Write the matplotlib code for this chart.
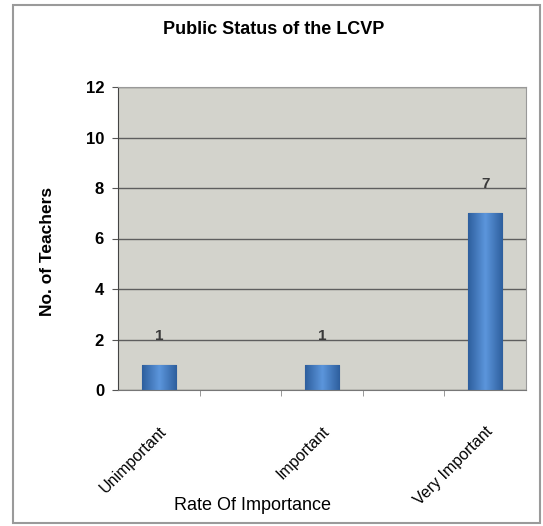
import numpy as np
import matplotlib.pyplot as plt
from matplotlib.patches import Rectangle
from matplotlib.colors import LinearSegmentedColormap

plt.rcParams['font.family'] = ['Liberation Sans', 'DejaVu Sans']

# data (5 slots, only 3 labelled/used)
categories = ["Unimportant", "", "Important", "", "Very Important"]
positions = [0, 2, 4]
bar_labels = ["Unimportant", "Important", "Very Important"]
teachers = [1, 1, 7]
yticks = [0, 2, 4, 6, 8, 10, 12]

fig = plt.figure(figsize=(5.43, 5.26), dpi=100)
ax = fig.add_axes([118/543, (526-390)/526, (526-118)/543, (390-87)/526])

# outer frame of the chart
fig.patches.append(Rectangle((13/543, 3/526), (540-13)/543, (521-3)/526,
                             transform=fig.transFigure, fill=False,
                             edgecolor='#9a9a9a', linewidth=1.5))

ax.set_facecolor('#d3d3cc')
ax.set_axisbelow(True)
ax.yaxis.grid(True, color='#5e5e5e', linewidth=1.0)

bars = ax.bar(positions, teachers, width=0.42, color='#4a80c4',
              edgecolor='#2c4f78', linewidth=0.8, zorder=2)

# horizontal gradient like the excel bars (dark edges, light middle)
cmap = LinearSegmentedColormap.from_list('barfill', ['#2e5f9e', '#5c96dc', '#2e5f9e'])
grad = np.linspace(0, 1, 64).reshape(1, -1)
for b in bars:
    x0, y0 = b.get_x(), b.get_y()
    im = ax.imshow(grad, cmap=cmap, aspect='auto', zorder=2.5,
                   extent=(x0, x0 + b.get_width(), y0, y0 + b.get_height()))
    im.set_clip_path(b)

for x, v in zip(positions, teachers):
    ax.annotate(str(v), (x, v), xytext=(0, 21), textcoords='offset points',
                ha='center', va='center', fontsize=11, fontweight='bold',
                color='#3a3a3a')

ax.set_xlim(-0.5, 4.5)
ax.set_ylim(0, 12)
ax.set_yticks(yticks)
ax.set_yticklabels([str(t) for t in yticks], fontsize=12, fontweight='bold')
ax.set_xticks(positions)
ax.set_xticklabels(bar_labels, rotation=45, ha='right', rotation_mode='anchor',
                   fontsize=11.5)
ax.set_xticks([0.5, 1.5, 2.5, 3.5], minor=True)
ax.tick_params(axis='x', which='major', length=0, pad=24)
ax.tick_params(axis='x', which='minor', length=4, color='#888888')
ax.tick_params(axis='y', length=4, color='#555555', pad=6)

for s in ['top', 'right']:
    ax.spines[s].set_color('#999999')
ax.spines['left'].set_color('#444444')
ax.spines['bottom'].set_color('#777777')

fig.text(274/543, 1 - 29/526, "Public Status of the LCVP", ha='center',
         va='center', fontsize=13, fontweight='bold')
fig.text(47/543, 1 - 251/526, "No. of Teachers", rotation=90, ha='center',
         va='center', fontsize=12.5, fontweight='bold')
fig.text(253/543, 1 - 505/526, "Rate Of Importance", ha='center',
         va='center', fontsize=13)

fig.savefig("out.png", dpi=100)
